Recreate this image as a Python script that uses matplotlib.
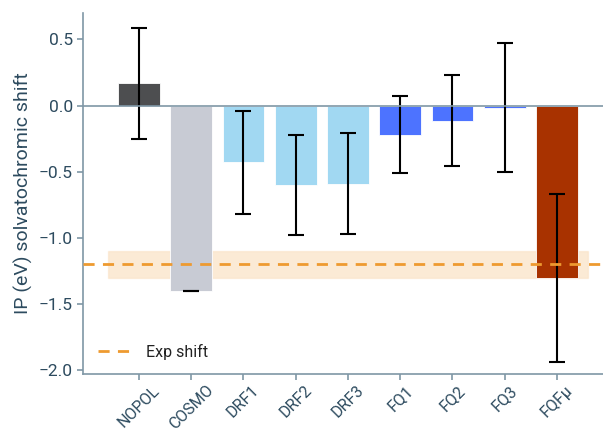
import numpy as np
import matplotlib.pyplot as plt

# ---- data ----
models = ["NOPOL", "COSMO", "DRF1", "DRF2", "DRF3", "FQ1", "FQ2", "FQ3", "FQF\u03bc"]
shift = [0.17, -1.40, -0.43, -0.60, -0.59, -0.22, -0.115, -0.015, -1.30]
err = [0.42, 0.0, 0.39, 0.38, 0.38, 0.29, 0.345, 0.49, 0.635]
colors = ["#4d4e50", "#c8cbd4", "#a1d8f2", "#4d73ff", "#a83200"]
color_idx = [0, 1, 2, 2, 2, 3, 3, 3, 4]

exp_shift = -1.2
exp_low, exp_high = -1.3, -1.1

text_col = "#2d4b5f"
spine_col = "#7f97a6"

plt.rcParams['font.family'] = ['Roboto', 'DejaVu Sans']

fig, ax = plt.subplots(figsize=(6.03, 4.34), dpi=100)
fig.subplots_adjust(left=0.138, right=1.0, top=0.97, bottom=0.138)

x = np.arange(len(models))
bar_cols = [colors[i] for i in color_idx]
ax.bar(x, shift, width=0.8, color=bar_cols, edgecolor="white", linewidth=0.6, zorder=2)
ax.errorbar(x, shift, yerr=err, fmt="none", ecolor="black", elinewidth=1.5,
            capsize=6, capthick=1.5, zorder=3)

# experimental band + line
ax.fill_between([-0.6, 8.6], exp_low, exp_high, color="#f0a040", alpha=0.22,
                linewidth=1, edgecolor="#f5c890", zorder=1)
ax.axhline(exp_shift, color="#ee9a30", linestyle=(0, (4, 3)), linewidth=2,
           label="Exp shift", zorder=4)
ax.axhline(0, color=spine_col, linewidth=1.2, zorder=5)

ax.set_xlim(-1.065, 8.88)
ax.set_ylim(-2.03, 0.7)
ax.set_yticks([0.5, 0.0, -0.5, -1.0, -1.5, -2.0])
ax.set_yticklabels(["0.5", "0.0", "\u22120.5", "\u22121.0", "\u22121.5", "\u22122.0"])
ax.set_xticks(x)
ax.set_xticklabels(models, rotation=45, ha="center", va="top")

for s in ["top", "right"]:
    ax.spines[s].set_visible(False)
for s in ["left", "bottom"]:
    ax.spines[s].set_color(spine_col)
    ax.spines[s].set_linewidth(1.2)

ax.tick_params(colors=spine_col, labelcolor=text_col, labelsize=12.5, length=4, width=1.2)
ax.tick_params(axis="x", labelsize=11.5, pad=2)
ax.set_ylabel("IP (eV) solvatochromic shift", color=text_col, fontsize=14)

ax.legend(loc="lower left", frameon=False, fontsize=11.5, handlelength=2.2,
          labelcolor="#222222", bbox_to_anchor=(0.0, 0.0))

fig.savefig("out.png", dpi=100)
